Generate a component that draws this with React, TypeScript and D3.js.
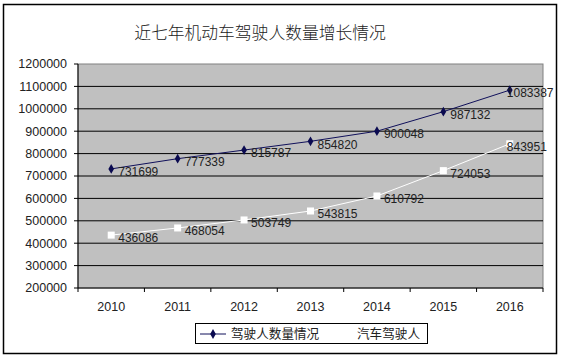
import React from 'react'
import * as d3 from 'd3'

const years = ['2010', '2011', '2012', '2013', '2014', '2015', '2016']
const drivers = [731699, 777339, 815787, 854820, 900048, 987132, 1083387]
const carDrivers = [436086, 468054, 503749, 543815, 610792, 724053, 843951]
const yTicks = [200000, 300000, 400000, 500000, 600000, 700000, 800000, 900000, 1000000, 1100000, 1200000]
const seriesNames = ['驾驶人数量情况', '汽车驾驶人']
const title = '近七年机动车驾驶人数量增长情况'

const W = 561
const H = 361
const margin = { left: 78, right: 18, top: 64, bottom: 73 }

export default function App() {
  const pw = W - margin.left - margin.right
  const ph = H - margin.top - margin.bottom

  const x = d3.scaleBand().domain(years).range([0, pw])
  const y = d3.scaleLinear().domain([200000, 1200000]).range([ph, 0])
  const cx = (d: string) => (x(d) as number) + x.bandwidth() / 2

  const line = d3.line<number>()
    .x((d, i) => cx(years[i]))
    .y(d => y(d))

  const numFont = '"Liberation Sans", Arial, sans-serif'
  const cjkFont = '"Noto Sans CJK SC", sans-serif'
  const diamond = d3.symbol(d3.symbolDiamond, 28)() as string

  // last label gets pulled back so it stays inside the frame
  const labelX = (i: number) => (i === years.length - 1 ? cx(years[i]) - 3 : cx(years[i]) + 7)

  return (
    <svg width={W} height={H} style={{ position: 'absolute', left: 0, top: 0, background: '#fff' }}>
      <rect x={3.5} y={4.5} width={553} height={349} fill="#fff" stroke="#000" strokeWidth={1.5} />
      <text x={260} y={39} textAnchor="middle" fontFamily={cjkFont} fontSize={16.8} fontWeight={300} fill="#222">{title}</text>

      <g transform={`translate(${margin.left},${margin.top})`}>
        <rect x={0} y={0} width={pw} height={ph} fill="#c0c0c0" stroke="#808080" />
        {yTicks.map(t => (
          <g key={t}>
            {t !== 200000 && t !== 1200000 && (
              <line x1={0} x2={pw} y1={y(t)} y2={y(t)} stroke="#000" strokeWidth={1} />
            )}
            <line x1={-4} x2={0} y1={y(t)} y2={y(t)} stroke="#000" />
            <text x={-11} y={y(t)} dy="0.35em" textAnchor="end" fontFamily={numFont} fontSize={12.5} fill="#222">{t}</text>
          </g>
        ))}
        <line x1={0} x2={0} y1={0} y2={ph} stroke="#000" />
        <line x1={0} x2={pw} y1={ph} y2={ph} stroke="#000" />
        {years.map(yr => (
          <g key={yr}>
            <line x1={x(yr) as number} x2={x(yr) as number} y1={ph} y2={ph + 4} stroke="#000" />
            <text x={cx(yr)} y={ph + 19} dy="0.35em" textAnchor="middle" fontFamily={numFont} fontSize={12.5} fill="#222">{yr}</text>
          </g>
        ))}
        <line x1={pw} x2={pw} y1={ph} y2={ph + 4} stroke="#000" />

        <path d={line(drivers) as string} fill="none" stroke="#10105a" strokeWidth={1} />
        {drivers.map((v, i) => (
          <path key={i} d={diamond} transform={`translate(${cx(years[i])},${y(v)})`} fill="#0a0a50" />
        ))}
        {drivers.map((v, i) => (
          <text key={i} x={labelX(i)} y={y(v) + 3} dy="0.35em" fontFamily={numFont} fontSize={12} fill="#222">{v}</text>
        ))}

        <path d={line(carDrivers) as string} fill="none" stroke="#fff" strokeWidth={1} />
        {carDrivers.map((v, i) => (
          <rect key={i} x={cx(years[i]) - 3.5} y={y(v) - 3.5} width={7} height={7} fill="#fff" />
        ))}
        {carDrivers.map((v, i) => (
          <text key={i} x={labelX(i)} y={y(v) + 3} dy="0.35em" fontFamily={numFont} fontSize={12} fill="#222">{v}</text>
        ))}
      </g>

      <g transform="translate(195,323)">
        <rect x={0.5} y={0.5} width={232} height={20} fill="#fff" stroke="#000" />
        <line x1={5} x2={31} y1={11} y2={11} stroke="#10105a" strokeWidth={1} />
        <path d={diamond} transform="translate(18,11)" fill="#0a0a50" />
        <text x={36} y={11} dy="0.35em" fontFamily={cjkFont} fontSize={12.6} fill="#222">{seriesNames[0]}</text>
        <line x1={135} x2={160} y1={11} y2={11} stroke="#fff" strokeWidth={1} />
        <text x={162} y={11} dy="0.35em" fontFamily={cjkFont} fontSize={12.6} fill="#222">{seriesNames[1]}</text>
      </g>
    </svg>
  )
}
